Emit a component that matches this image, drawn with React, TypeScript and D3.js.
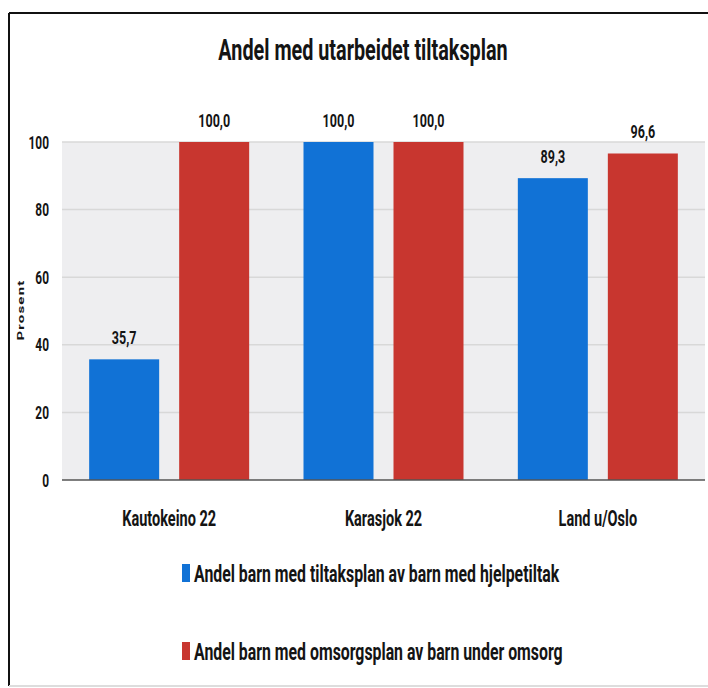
import React from "react";
import * as d3 from "d3";

const categories = ["Kautokeino 22", "Karasjok 22", "Land u/Oslo"];
const seriesNames = [
  "Andel barn med tiltaksplan av barn med hjelpetiltak",
  "Andel barn med omsorgsplan av barn under omsorg",
];
const tiltaksplan = [35.7, 100.0, 89.3];
const omsorgsplan = [100.0, 100.0, 96.6];
const yTicks = [0, 20, 40, 60, 80, 100];
const colors = ["#1172d6", "#c8362f"];

const W = 708;
const H = 688;
const FONT = "Roboto, 'DejaVu Sans', sans-serif";
const SX = 0.66;

function CText({
  x,
  y,
  size,
  anchor = "start",
  children,
}: {
  x: number;
  y: number;
  size: number;
  anchor?: string;
  children: React.ReactNode;
}) {
  return (
    <text
      transform={`translate(${x},${y}) scale(${SX},1)`}
      textAnchor={anchor}
      fontSize={size}
      fontWeight="bold"
      fill="#141414"
    >
      {children}
    </text>
  );
}

export default function App() {
  const plotLeft = 62;
  const plotRight = 705;
  const plotTop = 142;
  const plotBottom = 480;

  const x = d3.scaleBand<string>().domain(categories).range([plotLeft, plotRight]);
  const y = d3.scaleLinear().domain([0, 100]).range([plotBottom, plotTop]);
  const barW = 70;
  const gap = 20;
  const series = [tiltaksplan, omsorgsplan];
  const fmt = (v: number) => v.toFixed(1).replace(".", ",");

  return (
    <svg
      width={W}
      height={H}
      style={{ position: "absolute", left: 0, top: 0, background: "#fff" }}
      fontFamily={FONT}
    >
      <rect x={0} y={0} width={W} height={H} fill="#fff" />
      {/* frame */}
      <line x1={9} y1={13} x2={W} y2={13} stroke="#111" strokeWidth={2} />
      <line x1={9} y1={13} x2={9} y2={686} stroke="#111" strokeWidth={2} />
      <line x1={9} y1={686} x2={W} y2={686} stroke="#ddd" strokeWidth={2} />

      <CText x={363} y={60} size={30} anchor="middle">
        Andel med utarbeidet tiltaksplan
      </CText>

      {/* plot background */}
      <rect
        x={plotLeft}
        y={plotTop}
        width={plotRight - plotLeft}
        height={plotBottom - plotTop}
        fill="#eeeef0"
      />
      {yTicks.map((t) => (
        <g key={t}>
          {t > 0 && (
            <line
              x1={plotLeft}
              x2={plotRight}
              y1={y(t)}
              y2={y(t)}
              stroke="#d8d8d8"
              strokeWidth={1.5}
            />
          )}
          <CText x={49} y={y(t) + 6.5} size={18} anchor="end">
            {t}
          </CText>
        </g>
      ))}

      <text
        transform={`translate(24, 310) scale(${SX},1) rotate(-90)`}
        textAnchor="middle"
        fontSize={15}
        fontWeight="bold"
        letterSpacing={1.2}
        fill="#141414"
      >
        Prosent
      </text>

      {categories.map((c, i) => {
        const cx = (x(c) as number) + x.bandwidth() / 2;
        return (
          <g key={c}>
            {series.map((s, k) => {
              const bx = cx + (k === 0 ? -gap / 2 - barW : gap / 2);
              return (
                <g key={k}>
                  <rect
                    x={bx}
                    y={y(s[i])}
                    width={barW}
                    height={plotBottom - y(s[i])}
                    fill={colors[k]}
                  />
                  <CText x={bx + barW / 2} y={y(s[i]) - 15} size={19} anchor="middle">
                    {fmt(s[i])}
                  </CText>
                </g>
              );
            })}
            <CText x={cx} y={526} size={22} anchor="middle">
              {c}
            </CText>
          </g>
        );
      })}

      <line
        x1={plotLeft}
        x2={plotRight}
        y1={plotBottom}
        y2={plotBottom}
        stroke="#555"
        strokeWidth={1.5}
      />

      {seriesNames.map((n, k) => {
        const base = 582 + k * 78;
        return (
          <g key={n}>
            <rect x={182} y={base - 18} width={8} height={18} fill={colors[k]} />
            <CText x={194} y={base} size={24}>
              {n}
            </CText>
          </g>
        );
      })}
    </svg>
  );
}
